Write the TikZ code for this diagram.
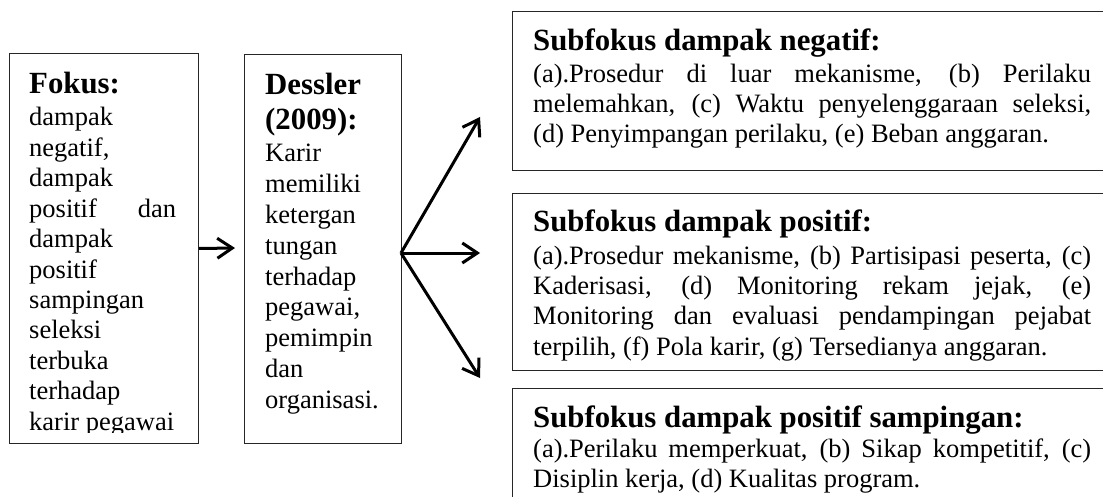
\documentclass[tikz,border=0pt]{standalone}
\usepackage{fontspec}
\setmainfont{Liberation Serif}
\usetikzlibrary{arrows.meta}
\begin{document}
\begin{tikzpicture}[x=1pt,y=-1pt,
  frame/.style={draw=black!85, line width=1pt, inner sep=0pt, anchor=north west},
  ttl/.style={inner sep=0pt, anchor=base west, font=\bfseries\fontsize{30.8}{35}\selectfont},
  body/.style={inner sep=0pt, anchor=base west, font=\fontsize{26.5}{30.4}\selectfont},
  arr/.style={line width=3pt, -{Straight Barb[length=15pt,width=20pt]}}
]
\clip (0,0) rectangle (1103,497);
\fill[white] (0,0) rectangle (1103,497);

% boxes
\node[frame, minimum width=189pt, minimum height=390pt] (fokus) at (9,53) {};
\node[frame, minimum width=157pt, minimum height=389pt] (dessler) at (244,54) {};
\node[frame, minimum width=620pt, minimum height=159pt] (neg) at (512,11) {};
\node[frame, minimum width=620pt, minimum height=177pt] (pos) at (512,193) {};
\node[frame, minimum width=620pt, minimum height=160pt] (samp) at (512,388) {};

% Fokus text
\begin{scope}
\clip (9,53) rectangle (198,432.5);
\node[ttl] (fokusT) at (29,94) {Fokus:};
\foreach \t [count=\i] in {dampak, {negatif,}, dampak, {\makebox[147pt][s]{positif dan}}, dampak, positif, sampingan, seleksi, terbuka, terhadap, karir pegawai}
  \node[body] (f\i) at (29,{126+(\i-1)*30.4}) {\t};
\end{scope}

% Dessler text
\node[ttl] (dT1) at (265,95) {Dessler};
\node[ttl] (dT2) at (265,130) {(2009):};
\foreach \t [count=\i] in {Karir, memiliki, ketergan, tungan, terhadap, {pegawai,}, pemimpin, dan, organisasi.}
  \node[body] (d\i) at (265,{162+(\i-1)*30.75}) {\t};

% Subfokus negatif
\node[ttl] (negT) at (533,51) {Subfokus dampak negatif:};
\node[body] (n1) at (533,83) {\makebox[558pt][s]{(a).Prosedur di luar mekanisme, (b) Perilaku}};
\node[body] (n2) at (533,113) {\makebox[558pt][s]{melemahkan, (c) Waktu penyelenggaraan seleksi,}};
\node[body] (n3) at (533,143) {(d) Penyimpangan perilaku, (e) Beban anggaran.};

% Subfokus positif
\node[ttl] (posT) at (533,232) {Subfokus dampak positif:};
\node[body] (p1) at (533,264) {\makebox[558pt][s]{(a).Prosedur mekanisme, (b) Partisipasi peserta, (c)}};
\node[body] (p2) at (533,294.4) {\makebox[558pt][s]{Kaderisasi, (d) Monitoring rekam jejak, (e)}};
\node[body] (p3) at (533,324.8) {\makebox[558pt][s]{Monitoring dan evaluasi pendampingan pejabat}};
\node[body] (p4) at (533,355) {terpilih, (f) Pola karir, (g) Tersedianya anggaran.};

% Subfokus positif sampingan
\node[ttl] (sampT) at (533,427) {Subfokus dampak positif sampingan:};
\node[body] (s1) at (533,457) {\makebox[558pt][s]{(a).Perilaku memperkuat, (b) Sikap kompetitif, (c)}};
\node[body] (s2) at (533,487) {Disiplin kerja, (d) Kualitas program.};

% arrows
\coordinate (a1end) at (235,248);
\draw[arr] (fokus.east) -- (a1end);
\coordinate (fan) at (401,253);
\coordinate (tneg) at (480,117);
\coordinate (tpos) at (480,253);
\coordinate (tsamp) at (480,378);
\draw[arr] (fan) -- (tneg);
\draw[arr] (fan) -- (tpos);
\draw[arr] (fan) -- (tsamp);
\end{tikzpicture}
\end{document}
